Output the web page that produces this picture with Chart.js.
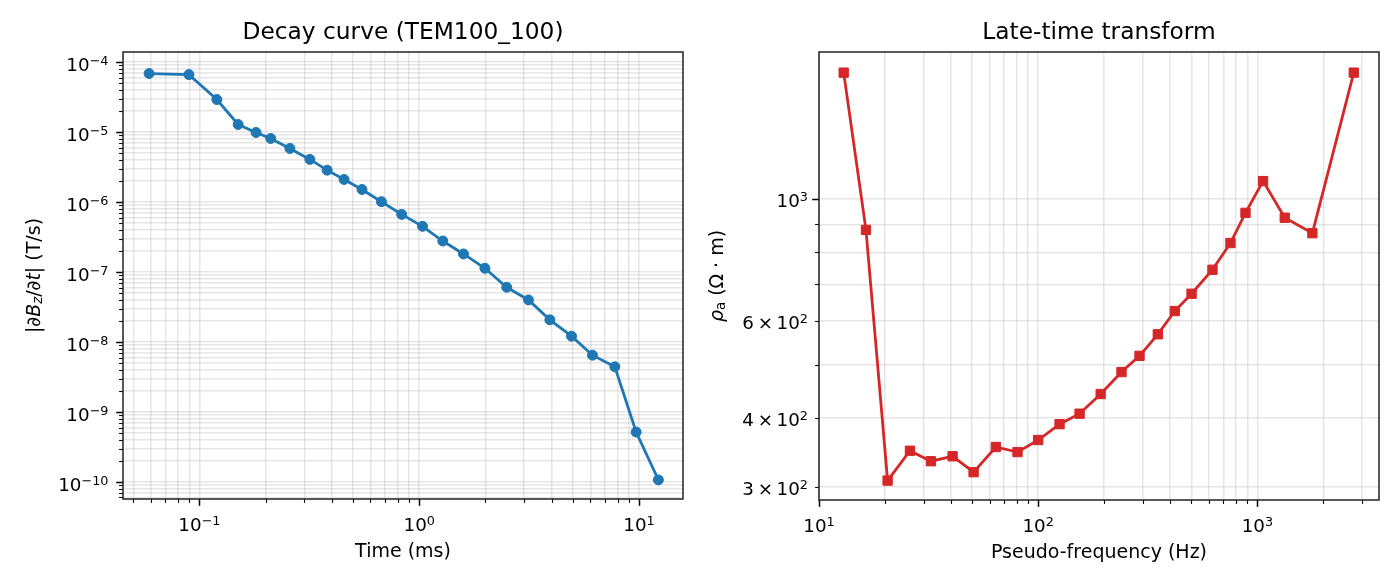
<!DOCTYPE html>
<html>
<head>
<meta charset="utf-8">
<script src="https://cdn.jsdelivr.net/npm/chart.js@4.4.1/dist/chart.umd.min.js"></script>
<style>
html, body { margin: 0; padding: 0; background: #fff; }
#wrap { position: relative; width: 1400px; height: 588px; }
.box { position: absolute; top: 0; width: 700px; height: 588px; }
</style>
</head>
<body>
<div id="wrap">
    <div class="box" style="left:0"><canvas id="canvasDecay"></canvas></div>
    <div class="box" style="left:700px"><canvas id="canvasRho"></canvas></div>
</div>
<script>
// decay curve, times in ms
var time_ms = [0.059, 0.0896, 0.120, 0.150, 0.181, 0.211, 0.258, 0.318, 0.381, 0.455, 0.549, 0.673, 0.832,
    1.035, 1.28, 1.59, 1.99, 2.50, 3.14, 3.93, 4.93, 6.14, 7.76, 9.70, 12.25];
var dbdt = [6.84e-5, 6.61e-5, 2.91e-5, 1.28e-5, 9.84e-6, 8.08e-6, 5.82e-6, 4.06e-6, 2.85e-6, 2.10e-6, 1.51e-6,
    1.01e-6, 6.65e-7, 4.49e-7, 2.77e-7, 1.81e-7, 1.13e-7, 6.05e-8, 3.99e-8, 2.07e-8, 1.21e-8, 6.48e-9,
    4.42e-9, 5.17e-10, 1.07e-10];

// late-time transform
var freq_hz = [12.96, 16.38, 20.56, 26.0, 32.4, 40.7, 50.75, 64.1, 80.5, 100, 125.2, 154.5, 192.8, 240, 290,
    351.5, 420, 501, 624, 754, 883, 1062, 1334, 1783, 2754];
var rho_a = [1697, 879, 308, 349, 334, 341, 319, 354.5, 347, 365, 390, 407.5, 442.4, 485, 519, 568, 626, 673,
    744, 832, 944, 1078, 925, 867, 1697];

// tick labels, written as base^exponent
var decayXTicks = [0.1, 1, 10];
var decayXLabels = ['10^\u22121', '10^0', '10^1'];
var decayYTicks = [1e-10, 1e-9, 1e-8, 1e-7, 1e-6, 1e-5, 1e-4];
var decayYLabels = ['10^\u221210', '10^\u22129', '10^\u22128', '10^\u22127', '10^\u22126', '10^\u22125', '10^\u22124'];
var rhoXTicks = [10, 100, 1000];
var rhoXLabels = ['10^1', '10^2', '10^3'];
var rhoYTicks = [300, 400, 600, 1000];
var rhoYLabels = ['3\u2009\u00D7\u200910^2', '4\u2009\u00D7\u200910^2', '6\u2009\u00D7\u200910^2', '10^3'];
var rhoYMajor = [1000];

var FONT = "'DejaVu Sans', sans-serif";
var GRID = 'rgba(176,176,176,0.32)';
var TICK_SIZE = 18.3;

function logTicks(min, max){
    var out = [];
    var k0 = Math.floor(Math.log10(min));
    var k1 = Math.ceil(Math.log10(max));
    for (var k = k0; k <= k1; k++){
        for (var m = 1; m <= 9; m++){
            var v = parseFloat((m * Math.pow(10, k)).toPrecision(6));
            if (v >= min && v <= max) out.push(v);
        }
    }
    return out;
}

function findIndex(list, v){
    for (var i = 0; i < list.length; i++){
        if (Math.abs(list[i] - v) / list[i] < 1e-6) return i;
    }
    return -1;
}

function createAxis(min, max, tickVals, tickLabels, majorVals, size, isX){
    return {
        type: 'logarithmic',
        min: min,
        max: max,
        tickVals: tickVals,
        tickLabels: tickLabels,
        afterBuildTicks: function(scale){
            scale.ticks = logTicks(min, max).map(function(v){
                return {value: v, big: findIndex(majorVals, v) >= 0};
            });
        },
        afterFit: function(scale){
            if (isX) scale.height = size; else scale.width = size;
        },
        grid: {color: GRID, lineWidth: 1.5, drawTicks: false},
        border: {display: false},
        ticks: {display: false, autoSkip: false}
    };
}

// label like '10^-4' drawn with a raised, smaller exponent
function drawPowerLabel(ctx, label, x, y, align){
    var bits = label.split('^');
    var fBase = TICK_SIZE + 'px ' + FONT;
    var fExp = (TICK_SIZE * 0.7) + 'px ' + FONT;
    ctx.font = fBase;
    var wb = ctx.measureText(bits[0]).width;
    ctx.font = fExp;
    var we = ctx.measureText(bits[1]).width;
    var total = wb + we;
    var x0 = align == 'center' ? x - total / 2 : x - total;
    ctx.textAlign = 'left';
    ctx.textBaseline = 'alphabetic';
    ctx.font = fBase;
    ctx.fillText(bits[0], x0, y);
    ctx.font = fExp;
    ctx.fillText(bits[1], x0 + wb, y - 6.3);
}

// parts: [text, italic, subscript]
function drawRich(ctx, parts, x, y, vertical){
    var size = 19;
    var widths = [];
    var total = 0;
    parts.forEach(function(p){
        ctx.font = (p[1] ? 'italic ' : '') + (p[2] ? size * 0.7 : size) + 'px ' + FONT;
        var w = ctx.measureText(p[0]).width;
        widths.push(w);
        total += w;
    });
    ctx.save();
    ctx.translate(x, y);
    if (vertical) ctx.rotate(-Math.PI / 2);
    ctx.fillStyle = '#000';
    ctx.textBaseline = 'middle';
    ctx.textAlign = 'left';
    var cx = -total / 2;
    parts.forEach(function(p, i){
        ctx.font = (p[1] ? 'italic ' : '') + (p[2] ? size * 0.7 : size) + 'px ' + FONT;
        ctx.fillText(p[0], cx, p[2] ? 4 : 0);
        cx += widths[i];
    });
    ctx.restore();
}

// frame, tick marks, tick labels and titles
var framePlugin = {
    id: 'frame',
    afterDraw: function(chart){
        var ctx = chart.ctx;
        var a = chart.chartArea;
        var o = chart.options.plugins.frame;
        ctx.save();
        ctx.strokeStyle = '#000';
        ctx.fillStyle = '#000';
        ['x', 'y'].forEach(function(id){
            var s = chart.scales[id];
            var opts = chart.options.scales[id];
            s.ticks.forEach(function(t){
                var len = t.big ? 6.8 : 3.9;
                ctx.lineWidth = t.big ? 1.5 : 1.1;
                ctx.beginPath();
                var p = Math.round(s.getPixelForValue(t.value)) + 0.5;
                if (id == 'x'){
                    ctx.moveTo(p, a.bottom);
                    ctx.lineTo(p, a.bottom + len);
                } else {
                    ctx.moveTo(a.left, p);
                    ctx.lineTo(a.left - len, p);
                }
                ctx.stroke();
                var i = findIndex(opts.tickVals, t.value);
                if (i < 0) return;
                if (id == 'x'){
                    drawPowerLabel(ctx, opts.tickLabels[i], s.getPixelForValue(t.value), a.bottom + 32, 'center');
                } else {
                    drawPowerLabel(ctx, opts.tickLabels[i], a.left - o.yLabelGap, s.getPixelForValue(t.value) + o.yLabelDrop, 'right');
                }
            });
        });
        ctx.lineWidth = 1.5;
        ctx.strokeStyle = '#222';
        ctx.strokeRect(a.left, a.top, a.right - a.left, a.bottom - a.top);

        ctx.textAlign = 'center';
        ctx.textBaseline = 'middle';
        ctx.font = '23.3px ' + FONT;
        ctx.fillText(o.title, (a.left + a.right) / 2, 33);
        ctx.font = '19px ' + FONT;
        ctx.fillText(o.xTitle, (a.left + a.right) / 2, a.bottom + 53);
        drawRich(ctx, o.yTitle, o.yTitleX, (a.top + a.bottom) / 2, true);
        ctx.restore();
    }
};

function createDataSet(xs, ys, color, style, radius){
    return {
        data: xs.map(function(x, i){ return {x: x, y: ys[i]}; }),
        borderColor: color,
        backgroundColor: color,
        borderWidth: 2.8,
        pointStyle: style,
        pointRadius: radius,
        pointBorderWidth: 1,
        pointBackgroundColor: color,
        pointBorderColor: color,
        tension: 0,
        fill: false
    };
}

function createChart(canvas, dataset, xAxis, yAxis, padRight, frame){
    var ctx = document.getElementById(canvas).getContext('2d');
    return new Chart(ctx, {
        type: 'line',
        data: {datasets: [dataset]},
        options: {
            responsive: true,
            maintainAspectRatio: false,
            animation: false,
            layout: {padding: {left: 0, top: 52, right: padRight, bottom: 0}},
            scales: {x: xAxis, y: yAxis},
            plugins: {
                legend: {display: false},
                tooltip: {enabled: false},
                frame: frame
            }
        },
        plugins: [framePlugin]
    });
}

createChart('canvasDecay',
    createDataSet(time_ms, dbdt, '#1f77b4', 'circle', 5),
    createAxis(0.0449, 15.85, decayXTicks, decayXLabels, decayXTicks, 89, true),
    createAxis(5.71e-11, 1.39e-4, decayYTicks, decayYLabels, decayYTicks, 123, false),
    17,
    {
        title: 'Decay curve (TEM100_100)',
        xTitle: 'Time (ms)',
        yTitleX: 35,
        yLabelGap: 14.5,
        yLabelDrop: 9,
        yTitle: [['|', false, false], ['\u2202B', true, false], ['z', true, true], ['/', false, false],
            ['\u2202t', true, false], ['| (T/s)', false, false]]
    });

createChart('canvasRho',
    createDataSet(freq_hz, rho_a, '#d62728', 'rect', 6.6),
    createAxis(10, 3590, rhoXTicks, rhoXLabels, rhoXTicks, 88, true),
    createAxis(284, 1850, rhoYTicks, rhoYLabels, rhoYMajor, 119, false),
    21,
    {
        title: 'Late-time transform',
        xTitle: 'Pseudo-frequency (Hz)',
        yTitleX: 18,
        yLabelGap: 11,
        yLabelDrop: 8,
        yTitle: [['\u03C1', true, false], ['a', false, true], [' (\u03A9 \u00B7 m)', false, false]]
    });
</script>
</body>
</html>
